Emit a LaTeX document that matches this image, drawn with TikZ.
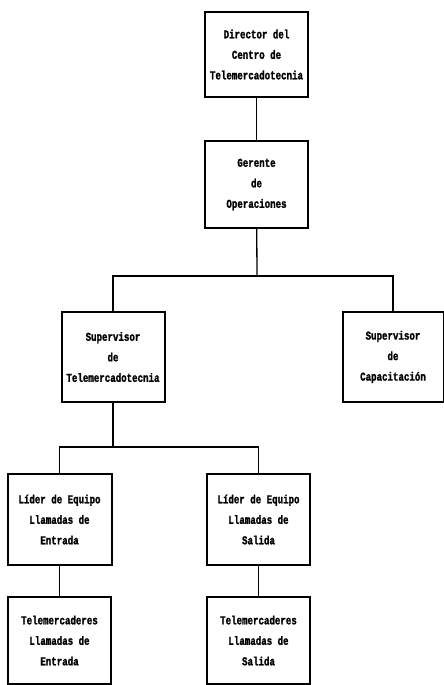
\documentclass[tikz,border=0pt]{standalone}
\usepackage{fontspec}
\setmainfont{Liberation Mono}[FakeStretch=0.76, BoldFeatures={FakeBold=1.5}]
\begin{document}
\begin{tikzpicture}[x=1pt,y=-1pt,
  orgbox/.style={draw, line width=2pt, minimum width=103pt, inner sep=0pt,
    align=center, font=\fontsize{12}{20.5}\selectfont\bfseries},
  link/.style={line width=1.3pt}]
\useasboundingbox (0,0) rectangle (444,685);

% boxes of the chart
\node[orgbox, minimum height=85pt] (dir) at (256.5,54.5)
  {Director del\\Centro de\\Telemercadotecnia};
\node[orgbox, minimum height=87pt] (ger) at (256.5,184.5)
  {Gerente\\de\\Operaciones};
\node[orgbox, minimum height=90pt] (sup) at (113,357)
  {Supervisor\\de\\Telemercadotecnia};
\node[orgbox, minimum height=90pt, minimum width=101pt] (cap) at (393,357)
  {Supervisor\\de\\Capacitación};
\node[orgbox, minimum height=91pt, minimum width=104pt] (lin) at (59.5,519.5)
  {Líder de Equipo\\Llamadas de\\Entrada};
\node[orgbox, minimum height=91pt] (lout) at (258.5,519.5)
  {Líder de Equipo\\Llamadas de\\Salida};
\node[orgbox, minimum height=87pt] (tin) at (59.5,640.5)
  {Telemercaderes\\Llamadas de\\Entrada};
\node[orgbox, minimum height=87pt] (tout) at (258.5,640.5)
  {Telemercaderes\\Llamadas de\\Salida};

% junction points of the branching lines
\coordinate (j1) at (257,276);
\coordinate (j2) at (113,447);

% connectors
\draw[link] (dir) -- (ger);
\draw[link] (ger) -- (j1);
\draw[link] (sup.north) |- (j1) -| (cap.north);
\draw[link] (sup) -- (j2);
\draw[link] (lin.north) |- (j2) -| (lout.north);
\draw[link] (lin) -- (tin);
\draw[link] (lout) -- (tout);
\end{tikzpicture}
\end{document}
